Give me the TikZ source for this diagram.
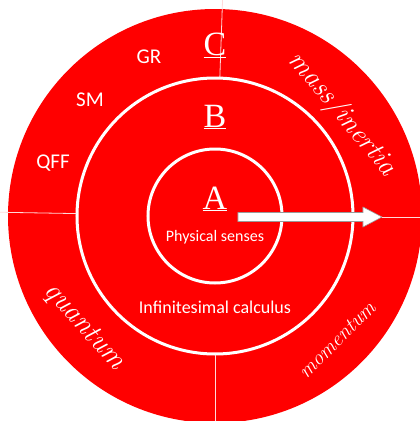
\documentclass[tikz,border=0pt]{standalone}
\usepackage{fontspec}
\setsansfont{Carlito}
\newfontfamily\letterfont{Liberation Serif}
\begin{document}
\begin{tikzpicture}[x=1pt, y=1pt]
    \def\outerR{207}
    \def\middleR{138}
    \def\innerR{67}

    \definecolor{ringRed}{HTML}{FF0000}
    \definecolor{arrowEdge}{HTML}{9A9A9A}

    \tikzset{
        tagtext/.style={text=white, font=\sffamily\fontsize{21}{23}\selectfont},
        ringletter/.style={text=white, font=\letterfont\fontsize{34}{36}\selectfont},
        slanted/.style={text=white, font=\itshape\fontsize{28}{30}\selectfont},
        ringline/.style={draw=white, line width=3pt},
        quarter/.style={draw=white!85!ringRed, line width=0.8pt}
    }

    % Picture frame
    \useasboundingbox (-215,-205) rectangle (205,216);
    \clip (-215,-205) rectangle (205,216);

    % Draw rings
    \fill[ringRed] (0,0) circle (\outerR);
    \draw[ringline] (0,0) circle (\middleR);
    \draw[ringline] (0,0) circle (\innerR);

    % Quarters of the outer ring
    \foreach \a in {88,179,270}
        \draw[quarter] (\a:\middleR+1) -- (\a:\outerR+10);

    % Arrow out of the centre
    \coordinate (tail) at (23,-1);
    \coordinate (tip) at (167,-1);
    \filldraw[fill=white, draw=arrowEdge, line width=0.6pt]
        (23,3.5) -- (148,3.5) -- (148,9) -- (tip) -- (148,-11) -- (148,-5.5) -- (23,-5.5) -- cycle;
    \draw[quarter] (tip) -- (215,-1);

    % Ring letters
    \node[ringletter] (A) at (0,17) {\underline{A}};
    \node[ringletter] (B) at (0,99) {\underline{B}};
    \node[ringletter] (C) at (0,171) {\underline{C}};

    \node[text=white, font=\sffamily\fontsize{16}{18}\selectfont] (senses) at (0,-21) {Physical senses};
    \node[text=white, font=\sffamily\fontsize{18}{20}\selectfont] (calculus) at (0,-91) {Infinitesimal calculus};

    % Theories
    \node[tagtext] (GR) at (-66,159) {GR};
    \node[tagtext] (SM) at (-125,116) {SM};
    \node[tagtext] (QFF) at (-162,53) {QFF};

    % Slanted words
    \node[slanted, rotate=-50] (mass) at (127,102) {mass/inertia};
    \node[slanted, rotate=-48, font=\itshape\fontsize{29}{31}\selectfont] (quantum) at (-131,-111) {quantum};
    \node[slanted, rotate=45, font=\itshape\fontsize{21}{23}\selectfont] (momentum) at (122,-124) {momentum};

\end{tikzpicture}
\end{document}
